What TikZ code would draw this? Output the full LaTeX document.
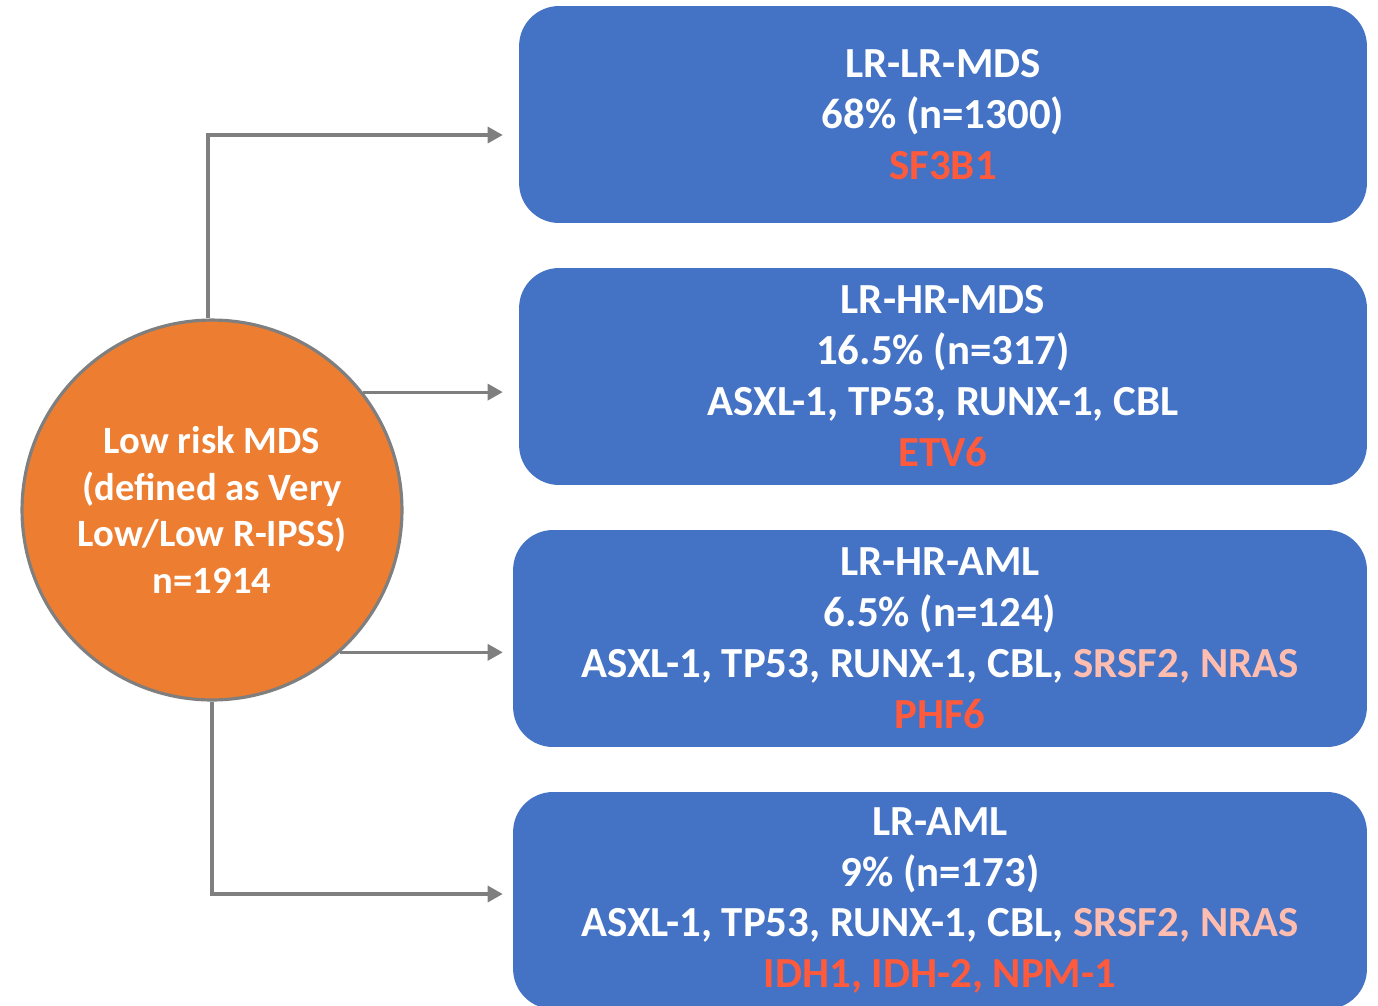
\documentclass[tikz,border=0pt]{standalone}
\usepackage{fontspec}
\setmainfont{Carlito}
\usetikzlibrary{arrows.meta}
\definecolor{boxblue}{HTML}{4472C4}
\definecolor{mdsorange}{HTML}{ED7D31}
\definecolor{genered}{HTML}{FF5A3C}
\definecolor{genepink}{HTML}{FFBDB0}
\definecolor{linegray}{HTML}{7F7F7F}
\begin{document}
\begin{tikzpicture}[x=0.02cm, y=-0.02cm,
  group/.style={fill=boxblue, rounded corners=0.8cm, text=white, align=center,
    font=\fontsize{24.4}{29}\selectfont\bfseries, minimum height=4.34cm, inner sep=0pt},
  conn/.style={draw=linegray, line width=1.8pt, -{Triangle[length=0.3cm,width=0.32cm]}, shorten >=0.32cm}]
\useasboundingbox (0,0) rectangle (1378,1005);
\node[circle, fill=mdsorange, draw=linegray, line width=1.8pt, minimum size=7.6cm,
  text=white, align=center, font=\fontsize{22}{26.5}\selectfont\bfseries] (lr) at (212,510)
  {Low risk MDS\\(defined as Very\\Low/Low R-IPSS)\\n=1914};
\node[group, minimum width=16.96cm] (b1) at (943,114.5)
  {LR-LR-MDS\\68\% (n=1300)\\\textcolor{genered}{SF3B1}};
\node[group, minimum width=16.96cm] (b2) at (943,376.5)
  {LR-HR-MDS\\16.5\% (n=317)\\ASXL-1, TP53, RUNX-1, CBL\\\textcolor{genered}{ETV6}};
\node[group, minimum width=17.08cm] (b3) at (940,638.5)
  {LR-HR-AML\\6.5\% (n=124)\\ASXL-1, TP53, RUNX-1, CBL, \textcolor{genepink}{SRSF2, NRAS}\\\textcolor{genered}{PHF6}};
\node[group, minimum width=17.08cm] (b4) at (940,900.5)
  {LR-AML\\9\% (n=173)\\ASXL-1, TP53, RUNX-1, CBL, \textcolor{genepink}{SRSF2, NRAS}\\\textcolor{genered}{IDH1, IDH-2, NPM-1}};

\draw[conn] ([xshift=-0.08cm]lr.north) |- ([yshift=-0.41cm]b1.west);
\draw[conn] (lr.38) -- (lr.38 -| b2.west);
\draw[conn, shorten >=0.2cm] (lr.-48) -- (lr.-48 -| b3.west);
\draw[conn, shorten >=0.2cm] (lr.south) |- ([yshift=0.13cm]b4.west);
\end{tikzpicture}
\end{document}
